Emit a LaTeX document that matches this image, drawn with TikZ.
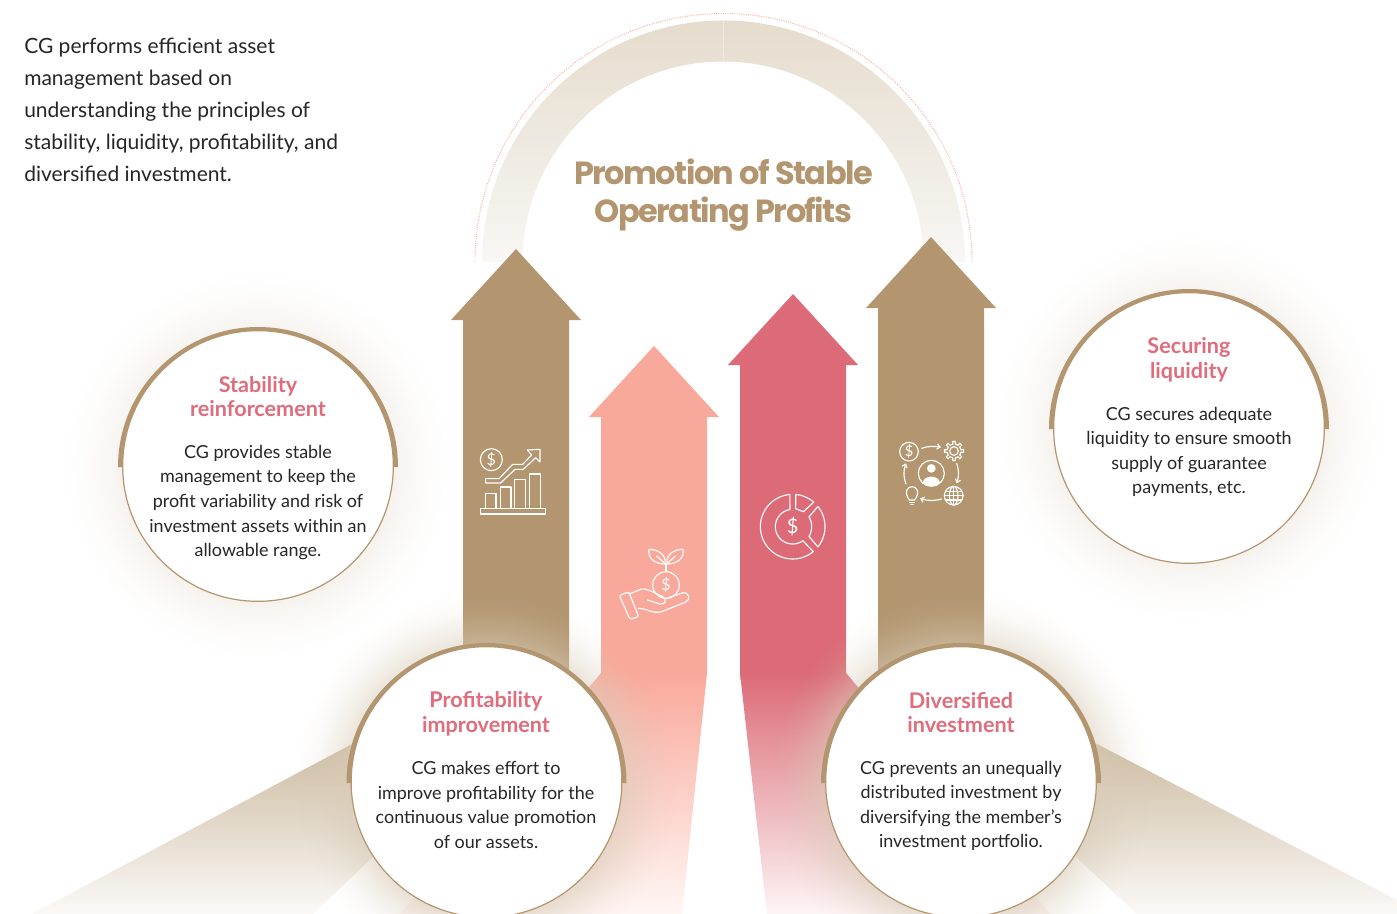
\documentclass[tikz,border=0pt]{standalone}
\usepackage{fontspec}
\usetikzlibrary{fadings,arrows.meta}
\setmainfont{Lato}
\newfontfamily\bodyf{Lato}
\newfontfamily\headf{Lato}
\newfontfamily\titlef[LetterSpace=-4.8]{Poppins}
\definecolor{brownc}{HTML}{B39670}
\definecolor{salmonc}{HTML}{F9A99B}
\definecolor{pinkc}{HTML}{DC6B77}
\definecolor{headc}{HTML}{E06C7C}
\definecolor{inkc}{HTML}{262626}
\definecolor{archA}{HTML}{E5DCCD}
\definecolor{archB}{HTML}{EAE3D7}
\definecolor{archC}{HTML}{F8F7F4}
\definecolor{seamc}{HTML}{EFE9DF}
\definecolor{rayA}{HTML}{CDBCA2}
\definecolor{rayB}{HTML}{E4DACB}
\definecolor{rayC}{HTML}{FBF9F7}
\definecolor{salB}{HTML}{FBCFC7}
\definecolor{salC}{HTML}{FFF6F4}
\definecolor{pinkB}{HTML}{E9A5AE}
\definecolor{pinkC}{HTML}{FDF5F5}
\definecolor{glowA}{HTML}{E3D9CA}
\definecolor{glowB}{HTML}{D9CCB8}
\pgfdeclareradialshading{glowsh}{\pgfpoint{0bp}{0bp}}{color(0bp)=(pgftransparent!40); color(17.5bp)=(pgftransparent!40); color(20bp)=(pgftransparent!68); color(22.5bp)=(pgftransparent!90); color(25bp)=(pgftransparent!100); color(50bp)=(pgftransparent!100)}
\pgfdeclarefading{glowfade}{\pgfuseshading{glowsh}}
\tikzset{
  glow/.style={fill=#1,path fading=glowfade,draw=none},
  thick arc/.style={fill=brownc,draw=none},
  disc/.style={circle,fill=white,draw=brownc,line width=.9pt,minimum size=203pt,inner sep=0pt},
  headtxt/.style={font=\headf\bfseries\fontsize{16.2}{18.6}\selectfont,text=headc,align=center},
  bodytxt/.style={font=\bodyf\fontsize{13.45}{18.4}\selectfont,text=inkc,align=center},
  icon/.style={draw=white,line width=.85pt,line join=round,line cap=round},
  dollar/.style={font=\bodyf\fontsize{12}{12}\selectfont,text=white,inner sep=0pt},
  barb/.style={-{Straight Barb[length=2.4pt,width=4pt]}}
}
\newcommand{\upArrow}[4]{% x left shaft, tip y, base y, colour
  \fill[#4] (#1,675) -- (#1,#3) -- ++(-12,0) -- ++(65,{#2-#3}) -- ++(65,{#3-#2}) -- ++(-12,0) -- ++(0,{675-#3}) -- cycle;}
\newcommand{\thickArc}[2]{\fill[thick arc] ({#1-140},#2) arc[start angle=180,end angle=0,x radius=140,y radius=-140] -- cycle;}
\begin{document}
\begin{tikzpicture}[x=.75pt,y=-.75pt]
\useasboundingbox (0,0) rectangle (1397,914);
\clip (0,0) rectangle (1397,914);
\fill[white] (0,0) rectangle (1397,914);
% arch
\shade[top color=archA,middle color=archB,bottom color=archC,draw=none]
  (482,262) arc[start angle=180,end angle=0,x radius=241.5,y radius=-241.5] -- (923.5,262)
  arc[start angle=0,end angle=180,x radius=200.5,y radius=-200.5] -- cycle;
\draw[seamc,line width=.5pt] (723.5,21) -- (723.5,61);
\draw[salmonc,line width=.7pt,densely dotted] (475,262) arc[start angle=180,end angle=0,x radius=248.5,y radius=-248.5];
% rays
\shade[top color=rayA,middle color=rayB,bottom color=rayC,draw=none] (354,743) -- (32,914) -- (313,914) -- (373,857) -- cycle;
\shade[top color=rayA,middle color=rayB,bottom color=rayC,draw=none] (1095,743) -- (1397,900) -- (1397,914) -- (1137,914) -- (1076,857) -- cycle;
% tapered lower parts
\shade[top color=salmonc,middle color=salB,bottom color=salC,draw=none] (601,673) -- (707,673) -- (682,914) -- (400,914) -- cycle;
\shade[top color=pinkc,middle color=pinkB,bottom color=pinkC,draw=none] (740,673) -- (846,673) -- (1050,914) -- (767,914) -- cycle;
% arrows
\upArrow{463}{249}{320}{brownc}
\upArrow{601}{346}{417}{salmonc}
\upArrow{740}{294}{365}{pinkc}
\upArrow{878}{237}{308}{brownc}
% glows
\fill[glow=glowA,opacity=.55] (258,466) circle[radius=190];
\fill[glow=glowA,opacity=.55] (1189,428) circle[radius=190];
\fill[glow=glowB] (486.5,783) circle[radius=190];
\fill[glow=glowB] (961,783) circle[radius=190];
% discs
\thickArc{258}{467}
\thickArc{1189}{429}
\thickArc{486.5}{783}
\thickArc{961}{783}
\node[disc] (stabDisc) at (258,466) {};
\node[disc] (liqDisc) at (1189,428) {};
\node[disc] (profDisc) at (486.5,782) {};
\node[disc] (divDisc) at (961,782) {};
% texts
\node[anchor=west,align=left,inner sep=0pt,font=\bodyf\fontsize{15.75}{24}\selectfont,text=inkc] (intro) at (24,110)
 {CG performs efficient asset\\management based on\\understanding the principles of\\stability, liquidity, profitability, and\\diversified investment.};
\node[font=\titlef\bfseries\fontsize{24}{28.5}\selectfont,text=brownc,align=center] (title) at (723.5,195.5) {Promotion of Stable\\Operating Profits};
\node[headtxt] (stabHead) at (258,396.5) {Stability\\reinforcement};
\node[bodytxt] (stabBody) at (258,502.5) {CG provides stable\\management to keep the\\profit variability and risk of\\investment assets within an\\allowable range.};
\node[headtxt] (liqHead) at (1189,360) {Securing\\liquidity};
\node[bodytxt] (liqBody) at (1189,452) {CG secures adequate\\liquidity to ensure smooth\\supply of guarantee\\payments, etc.};
\node[headtxt] (profHead) at (486,714) {Profitability\\improvement};
\node[bodytxt] (profBody) at (486,805) {CG makes effort to\\improve profitability for the\\continuous value promotion\\of our assets.};
\node[headtxt] (divHead) at (961,712.5) {Diversified\\investment};
\node[bodytxt] (divBody) at (961,806) {CG prevents an unequally\\distributed investment by\\diversifying the member’s\\investment portfolio.};
% icon: chart
\begin{scope}[shift={(440,420)},x=.25pt,y=-.25pt,icon]
\draw (154,119) circle[radius=33];
\node[dollar] (chartDollar) at (154,119) {\$};
\draw (121,266) rectangle (316,282);
\draw (137,266) -- (137,220) -- (168,220) -- (168,266);
\draw (181,266) -- (181,201) -- (213,201) -- (213,266);
\draw (223,266) -- (223,178) -- (256,178) -- (256,266);
\draw (268,266) -- (268,162) -- (301,162) -- (301,266);
\draw (137,176) -- (177,176) -- (218,133) -- (248,133) -- (275,105) -- (262,90) -- (300,88) -- (300,126) -- (287,113) -- (250,148) -- (225,148) -- (182,189) -- (137,189) -- cycle;
\end{scope}
% icon: hand
\begin{scope}[shift={(440,420)},x=.25pt,y=-.25pt,icon]
\draw (678,495) circle[radius=40];
\node[dollar] (handDollar) at (678,495) {\$};
\draw (678,432) -- (678,455);
\draw (675,432) .. controls (640,432) and (622,410) .. (627,388) .. controls (655,388) and (680,405) .. (675,432) -- cycle;
\draw (681,432) .. controls (716,432) and (734,410) .. (729,388) .. controls (701,388) and (676,405) .. (681,432) -- cycle;
\draw (650,408) -- (672,428);
\draw (706,408) -- (684,428);
\draw[rounded corners=1.2pt] (538,527) -- (566,515) -- (596,590) -- (570,598) -- cycle;
\draw (566,522) .. controls (590,515) and (600,505) .. (615,507) .. controls (630,510) and (650,522) .. (668,530) .. controls (682,538) and (678,554) .. (660,552) -- (622,540);
\draw (680,535) -- (730,518) .. controls (750,518) and (752,540) .. (735,547) -- (665,575) .. controls (640,583) and (620,565) .. (595,565);
\end{scope}
% icon: donut
\begin{scope}[shift={(740,420)},x=.25pt,y=-.25pt,icon]
\begin{scope}[shift={(158,320)}]
\draw plot[domain=-95:-309.6,samples=40] ({97*cos(\x)},{97*sin(\x)}) -- plot[domain=-306:-99,samples=40] ({52*cos(\x)},{52*sin(\x)}) -- cycle;
\draw plot[domain=-84.6:-49.3,samples=12] ({97*cos(\x)},{97*sin(\x)}) -- (32,-45) -- (9,-54) -- cycle;
\draw plot[domain=-38.7:38.7,samples=20] ({97*cos(\x)},{97*sin(\x)}) -- plot[domain=31:-31,samples=14] ({57*cos(\x)},{57*sin(\x)}) -- cycle;
\node[dollar,font=\bodyf\fontsize{15}{15}\selectfont] (donutDollar) at (0,0) {\$};
\end{scope}
\end{scope}
% icon: network
\begin{scope}[shift={(740,420)},x=.25pt,y=-.25pt,icon]
\draw (507,95) circle[radius=28];
\node[dollar,font=\bodyf\fontsize{11}{11}\selectfont] (netDollar) at (507,95) {\$};
\begin{scope}[shift={(642,93)}]
\draw (0,0) circle[radius=13];
\draw (-10:21) foreach \a in {0,45,...,315}{ -- (\a-10:21) -- (\a-8:29) -- (\a+8:29) -- (\a+10:21)} -- cycle;
\end{scope}
\draw (574,160) circle[radius=39];
\fill[white,draw=none] (574,145) circle[radius=13];
\fill[white,draw=none] (548,188) .. controls (552,164) and (596,164) .. (600,188) .. controls (585,201) and (563,201) .. cycle;
\begin{scope}[shift={(641,227)}]
\draw (0,0) circle[radius=28];
\draw (0,0) ellipse[x radius=13,y radius=28];
\draw (0,-28) -- (0,28);
\draw (-28,0) -- (28,0);
\draw (-24,-13) -- (24,-13);
\draw (-24,13) -- (24,13);
\end{scope}
\draw (508,240) .. controls (490,215) and (503,200) .. (516,200) .. controls (529,200) and (542,215) .. (524,240) -- cycle;
\draw (509,247) -- (523,247);
\draw (512,254) -- (520,254);
\draw[barb] (545,85) .. controls (563,78) and (585,78) .. (603,82);
\draw[barb] (650,130) .. controls (657,148) and (657,170) .. (650,190);
\draw[barb] (605,237) .. controls (585,243) and (562,243) .. (540,235);
\draw[barb] (498,192) .. controls (490,172) and (490,150) .. (498,130);
\end{scope}
\end{tikzpicture}
\end{document}
